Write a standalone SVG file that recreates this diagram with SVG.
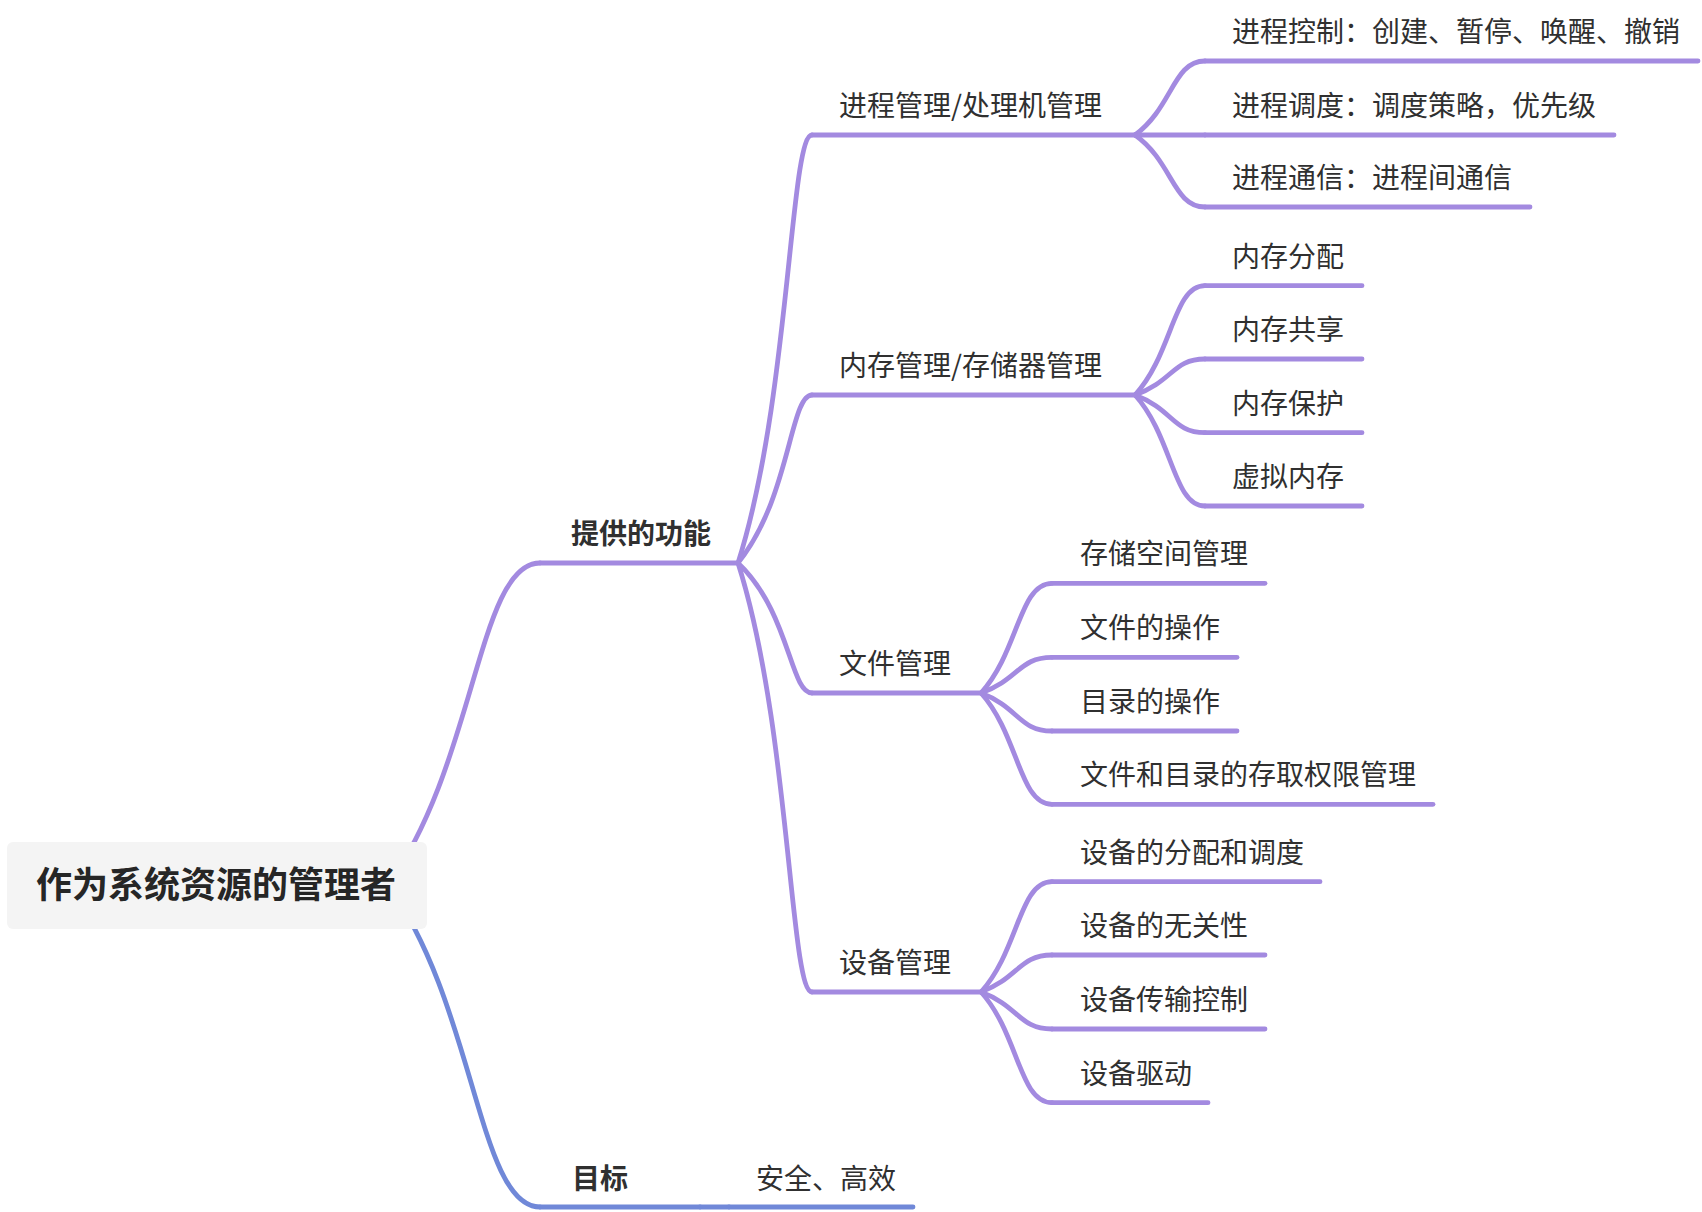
<svg xmlns="http://www.w3.org/2000/svg" width="1702" height="1212" viewBox="0 0 1702 1212">
<style>
text{font-family:"Noto Sans CJK SC","Noto Sans",sans-serif;fill:#303030;font-size:28px}
.b{font-weight:bold}
.root{font-size:36px;font-weight:bold;fill:#262626}
.p{stroke:#A38AE0;stroke-width:4.8;fill:none;stroke-linecap:round}
.u{stroke:#7088D8;stroke-width:4.8;fill:none;stroke-linecap:round}
</style>
<rect width="1702" height="1212" fill="#ffffff"/>
<g id="connectors">
<path class="p" d="M388,885 C476,763 478,563 540,563"/>
<path class="u" d="M388,885 C476,1007 478,1207 540,1207"/>
<path class="p" d="M738,563 C790,400 790,135 812,135"/>
<path class="p" d="M738,563 C790,499 790,395 812,395"/>
<path class="p" d="M738,563 C790,612 790,693 812,693"/>
<path class="p" d="M738,563 C790,726 790,992 812,992"/>
<path class="p" d="M1135,135 C1173,107 1173,61 1205,61"/>
<path class="p" d="M1135,135 L1205,135"/>
<path class="p" d="M1135,135 C1173,162 1173,207 1205,207"/>
<path class="p" d="M1135,395 C1173,353.5 1173,285.7 1205,285.7"/>
<path class="p" d="M1135,395 C1173,381.3 1173,359 1205,359"/>
<path class="p" d="M1135,395 C1173,409.3 1173,432.7 1205,432.7"/>
<path class="p" d="M1135,395 C1173,437.2 1173,506 1205,506"/>
<path class="p" d="M981,693 C1019,651.3 1019,583.3 1052,583.3"/>
<path class="p" d="M981,693 C1019,679.4 1019,657.3 1052,657.3"/>
<path class="p" d="M981,693 C1019,707.4 1019,731 1052,731"/>
<path class="p" d="M981,693 C1019,735.3 1019,804.3 1052,804.3"/>
<path class="p" d="M981,992 C1019,950.1 1019,881.7 1052,881.7"/>
<path class="p" d="M981,992 C1019,977.9 1019,955 1052,955"/>
<path class="p" d="M981,992 C1019,1006.1 1019,1029 1052,1029"/>
<path class="p" d="M981,992 C1019,1034.1 1019,1102.7 1052,1102.7"/>
<path class="u" d="M700,1207 L729,1207"/>
</g>
<g id="root"><rect x="7" y="842" width="420" height="87" rx="6" fill="#F4F4F4"/><text class="root" x="216" y="898" text-anchor="middle">作为系统资源的管理者</text></g>
<g id="func"><line class="p" x1="540" y1="563" x2="738" y2="563"/><text class="b" x="571" y="544">提供的功能</text></g>
<g id="goal"><line class="u" x1="540" y1="1207" x2="700" y2="1207"/><text class="b" x="572" y="1189">目标</text></g>
<g id="goal-1"><line class="u" x1="729" y1="1207" x2="913" y2="1207"/><text x="756" y="1189">安全、高效</text></g>
<g id="proc"><line class="p" x1="812" y1="135" x2="1135" y2="135"/><text x="839" y="116">进程管理/处理机管理</text></g>
<g id="mem"><line class="p" x1="812" y1="395" x2="1135" y2="395"/><text x="839" y="376">内存管理/存储器管理</text></g>
<g id="file"><line class="p" x1="812" y1="693" x2="981" y2="693"/><text x="839" y="674">文件管理</text></g>
<g id="dev"><line class="p" x1="812" y1="992" x2="981" y2="992"/><text x="839" y="973">设备管理</text></g>
<g id="proc-1"><line class="p" x1="1205" y1="61" x2="1698" y2="61"/><text x="1232" y="42">进程控制：创建、暂停、唤醒、撤销</text></g>
<g id="proc-2"><line class="p" x1="1205" y1="135" x2="1614" y2="135"/><text x="1232" y="116">进程调度：调度策略，优先级</text></g>
<g id="proc-3"><line class="p" x1="1205" y1="207" x2="1530" y2="207"/><text x="1232" y="188">进程通信：进程间通信</text></g>
<g id="mem-1"><line class="p" x1="1205" y1="285.7" x2="1362" y2="285.7"/><text x="1232" y="267">内存分配</text></g>
<g id="mem-2"><line class="p" x1="1205" y1="359" x2="1362" y2="359"/><text x="1232" y="340">内存共享</text></g>
<g id="mem-3"><line class="p" x1="1205" y1="432.7" x2="1362" y2="432.7"/><text x="1232" y="414">内存保护</text></g>
<g id="mem-4"><line class="p" x1="1205" y1="506" x2="1362" y2="506"/><text x="1232" y="487">虚拟内存</text></g>
<g id="file-1"><line class="p" x1="1052" y1="583.3" x2="1265" y2="583.3"/><text x="1080" y="564">存储空间管理</text></g>
<g id="file-2"><line class="p" x1="1052" y1="657.3" x2="1237" y2="657.3"/><text x="1080" y="638">文件的操作</text></g>
<g id="file-3"><line class="p" x1="1052" y1="731" x2="1237" y2="731"/><text x="1080" y="712">目录的操作</text></g>
<g id="file-4"><line class="p" x1="1052" y1="804.3" x2="1433" y2="804.3"/><text x="1080" y="785">文件和目录的存取权限管理</text></g>
<g id="dev-1"><line class="p" x1="1052" y1="881.7" x2="1320" y2="881.7"/><text x="1080" y="863">设备的分配和调度</text></g>
<g id="dev-2"><line class="p" x1="1052" y1="955" x2="1265" y2="955"/><text x="1080" y="936">设备的无关性</text></g>
<g id="dev-3"><line class="p" x1="1052" y1="1029" x2="1265" y2="1029"/><text x="1080" y="1010">设备传输控制</text></g>
<g id="dev-4"><line class="p" x1="1052" y1="1102.7" x2="1208" y2="1102.7"/><text x="1080" y="1084">设备驱动</text></g>
</svg>
